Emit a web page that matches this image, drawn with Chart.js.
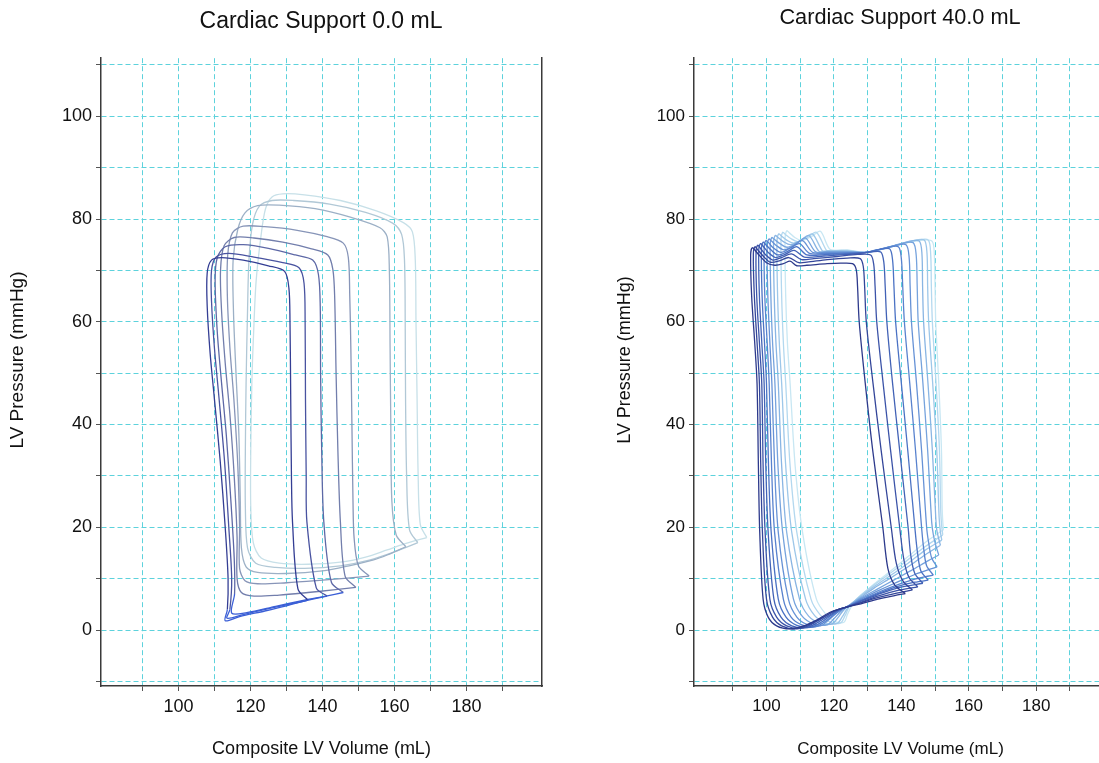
<!DOCTYPE html>
<html>
<head>
<meta charset="utf-8">
<title>Cardiac Support PV loops</title>
<script src="https://cdn.jsdelivr.net/npm/chart.js@4.4.1/dist/chart.umd.min.js"></script>
<style>
  html, body { margin: 0; padding: 0; background: #fff; overflow: hidden; }
  body { width: 1099px; height: 763px; position: relative; }
  .box { position: absolute; top: 0; height: 763px; }
  #leftBox { left: 0; width: 642px; }
  #rightBox { left: 605px; width: 590px; }
</style>
</head>
<body>
<div class="box" id="leftBox"><canvas id="chartLeft"></canvas></div>
<div class="box" id="rightBox"><canvas id="chartRight"></canvas></div>
<script>
// axis values
const xGridValues = [90, 100, 110, 120, 130, 140, 150, 160, 170, 180, 190];
const yGridValues = [-10, 0, 10, 20, 30, 40, 50, 60, 70, 80, 90, 100, 110];
const xTickLabels = [100, 120, 140, 160, 180];
const yTickLabels = [0, 20, 40, 60, 80, 100];

// Cardiac Support 0.0 mL : loops [volume, pressure], darkest (latest) first
const base7 = [[136,5.8],[133.2,8],[131.7,21],[131.4,30],[131.2,45],[131,60],[130.7,66.5],[129.5,69.8],[125,70.9],[118,72],[112,72.5],[109.2,72],[108,69.5],[108,63],[108.8,54],[110,45],[111.6,33],[113,20],[113.8,10],[113.6,4],[113,1.8],[117,2.6],[124,3.7],[130,4.7],[136,5.8]];
const base6 = [[141.3,6.6],[138.3,8.2],[135.7,21],[135.5,30],[135.3,45],[135.2,60],[134.9,67.5],[133.5,70.5],[129,71.5],[121,72.6],[114,73.3],[110.5,72.6],[109.2,70],[109.2,64],[110,55],[111.3,45],[112.8,33],[114,20],[114.8,10],[114.3,4],[113.5,2.3],[118,3],[126,4.3],[134,5.5],[141.3,6.6]];
const base5 = [[145.8,7.3],[142.5,9.3],[140.4,21],[139.8,35],[139.5,50],[139.4,63],[138.9,69.2],[137.3,72],[132.5,73],[125,74.3],[118,75],[113,74.6],[110.8,72.5],[110.2,68],[110.8,58],[112,48],[113.3,38],[114.5,26],[115.5,14],[115.6,7],[114.8,3.3],[119,3.4],[127,4.6],[135,5.8],[141,6.6],[145.8,7.3]];
const base4 = [[149.3,8.3],[146.3,10.5],[145,21],[144.3,35],[143.8,50],[143.4,65],[142.9,70.2],[141.5,73],[137,74.2],[129,75.5],[121,76.3],[115.5,76.4],[112.7,74.8],[111.7,70],[112,62],[113,52],[114.3,42],[115.5,30],[116.3,18],[116.3,10],[117.5,7.3],[121,6.6],[128,6.8],[136,7.3],[143,7.8],[149.3,8.3]];
const base3 = [[153,10.5],[150,12.5],[148.8,18],[148.5,25],[148.2,40],[147.9,55],[147.6,65],[147.2,72.5],[145.8,75.3],[141,76.6],[133,77.8],[124,78.5],[118,78.6],[115,77.3],[113.7,73],[113.6,65],[114.3,55],[115.4,45],[116.5,32],[117,20],[117,12],[118.5,9.6],[122,9],[130,9.2],[140,9.7],[147,10.1],[153,10.5]];
const base2 = [[163.2,16.2],[160.5,18.5],[159.3,25],[159,40],[158.8,55],[158.6,70],[158,76.5],[156,78.3],[148,80.3],[138,82],[128,82.7],[122,82.6],[118.5,81.2],[116.5,78],[115.2,72],[115.3,62],[116,50],[116.8,38],[117.2,25],[117.5,16],[118.8,12.3],[122,11.2],[130,11],[140,11.5],[148,12.6],[154,13.6],[158,14.6],[163.2,16.2]];
const base1 = [[166.5,17],[164.2,19.5],[163.4,30],[163.1,45],[163,60],[162.8,72],[162,77],[159.5,79.2],[152,81.3],[142,82.9],[132,83.6],[126,83.6],[122.5,82.5],[120.6,79],[119.6,72],[119.2,62],[118.8,48],[118.6,35],[118.6,24],[119.2,16],[121.5,13],[127,12.2],[135,12],[145,12.5],[153,13.6],[160,15.2],[166.5,17]];
const base0 = [[169,18],[167.2,20.5],[166.6,30],[166.3,45],[166,60],[165.8,72],[165,77.5],[162.5,79.3],[155,81.6],[145,83.6],[135,84.7],[129,84.9],[126,84.3],[124.2,82],[123,77],[121.6,68],[120.9,58],[120.4,48],[120.1,35],[120.1,24],[120.8,17],[123,14],[128,13],[136,12.8],[145,13.2],[152,14.2],[158,15.6],[163,16.8],[169,18]];
const baseLoops = [base7, base6, base5, base4, base3, base2, base1, base0];

// Cardiac Support 40.0 mL : loops [volume, pressure], darkest first
const sup0 = [[141.2,7.1],[138,8.8],[136,12],[134.5,20],[131.5,35],[129.3,48],[127.5,60],[127,67],[126.6,70.2],[125.5,71.3],[122,71.4],[118,71.3],[112,71],[109,70.9],[107,71.8],[105,71.3],[102.5,71],[100,71.5],[97.5,73.2],[95.8,74.4],[95.3,73],[95.6,65],[96.5,56],[97.2,48],[97.6,32],[98,19],[99,6],[100.5,2.5],[103,0.8],[107,0.2],[111,0.8],[115,2],[119,3.5],[124,4.5],[128,5.1],[133,6],[138,6.7],[141.2,7.1]];
const sup1 = [[143.3,7.8],[140.5,9.5],[138.5,13],[137,20],[134,35],[131.6,48],[129.6,60],[129.1,67],[128.7,70.8],[127.8,72.3],[124,72.4],[118,72.1],[112,71.6],[109.6,71.5],[106.6,72.5],[104,71.9],[101.1,71.6],[99,72.8],[97.4,74],[96.6,74.6],[96.1,73.2],[96.4,65],[97.2,56],[97.9,48],[98.3,32],[98.8,19],[100,6],[101.8,2.5],[104.5,0.8],[108.5,0.2],[112,0.9],[116,2.2],[120,3.7],[124,4.5],[128,5.3],[133,6.3],[138,7.1],[143.3,7.8]];
const sup2 = [[144.9,8.4],[142.3,10.2],[140.8,13.5],[139.5,20],[136.8,35],[134.6,48],[132.7,60],[132.2,67],[131.8,71.2],[130.9,73],[127,73.1],[121,72.7],[114,72.3],[110.4,72.1],[107.4,73.2],[104.5,72.5],[101.9,72],[99.8,73],[98.2,74.3],[97.4,74.9],[96.9,73.5],[97.1,65],[97.9,56],[98.6,48],[99,32],[99.6,19],[101,6],[103,2.5],[106,0.8],[110,0.3],[113,1],[117,2.5],[121,3.9],[124,4.5],[128,5.4],[133,6.6],[139,7.7],[144.9,8.4]];
const sup3 = [[146.4,9.1],[144,11],[142.8,14.5],[142,20],[139.5,35],[137.4,48],[135.7,60],[135.2,67],[134.8,71.6],[133.9,73.6],[131,73.6],[129.7,73.5],[124,73.1],[117,72.8],[111.2,72.6],[108.2,73.9],[105.5,73.1],[102.7,72.5],[100.5,73.5],[99,74.7],[98.2,75.2],[97.7,73.8],[97.9,65],[98.6,56],[99.3,48],[99.8,32],[100.5,19],[102.2,6],[104.3,2.5],[107.5,0.8],[111.5,0.4],[114.5,1.2],[118.5,2.8],[122,4.1],[124,4.5],[128,5.6],[133,6.9],[139,8.2],[146.4,9.1]];
const sup4 = [[148,9.7],[145.8,11.5],[144.8,15],[144,20],[141.9,35],[140,48],[138.3,60],[137.8,67],[137.4,72],[136.5,74.2],[133,74],[129.7,73.5],[125,73.3],[118,73.1],[112,73],[109,74.6],[106.3,73.7],[103.5,73],[101.3,74],[99.8,75],[99,75.5],[98.5,74],[98.7,65],[99.4,56],[100,48],[100.6,32],[101.4,19],[103.5,6],[105.8,2.5],[109,0.9],[113,0.5],[116,1.4],[119.5,3],[122.5,4.2],[124,4.5],[128,5.7],[133,7.1],[139,8.5],[144,9.3],[148,9.7]];
const sup5 = [[149.5,10.7],[147.5,12.5],[146.6,16],[146,20],[144.2,35],[142.5,48],[140.9,60],[140.4,67],[140,72.3],[139.1,74.6],[135.5,74.4],[131.5,73.8],[129.7,73.5],[124,73.4],[118,73.3],[112.8,73.3],[109.8,75.2],[107,74.3],[104.3,73.5],[102,74.4],[100.6,75.4],[99.8,75.8],[99.3,74.3],[99.5,65],[100.2,56],[100.8,48],[101.5,32],[102.4,19],[105,6],[107.3,2.5],[110.5,1],[114.5,0.6],[117.5,1.7],[120.5,3.2],[123,4.3],[124,4.6],[128,5.8],[133,7.3],[138,8.6],[144,9.9],[149.5,10.7]];
const sup6 = [[150.6,12.3],[149,14],[148.1,17],[147.5,20],[146,35],[144.5,48],[143,60],[142.6,67],[142.3,72.6],[141.4,75],[138,74.8],[133,74],[129.7,73.5],[124,73.5],[118,73.5],[113.7,73.5],[110.7,75.8],[108,74.8],[105.2,74],[103,74.8],[101.5,75.7],[100.7,76.1],[100.2,74.6],[100.4,65],[101,56],[101.6,48],[102.4,32],[103.5,19],[106.5,6],[109,2.5],[112,1.1],[116,0.8],[118.5,2],[121,3.4],[123,4.3],[124,4.6],[128,6],[133,7.6],[138,9.1],[144,10.8],[150.6,12.3]];
const sup7 = [[151.1,14.6],[150.2,16.5],[149.5,18.5],[149,21],[147.8,35],[146.4,48],[145,60],[144.7,67],[144.4,73],[143.5,75.4],[140,75.2],[134.5,74.2],[129.7,73.5],[124,73.6],[118,73.6],[114.6,73.6],[111.6,76.3],[109,75.3],[106.1,74.5],[104,75.2],[102.4,76],[101.6,76.4],[101.1,74.9],[101.3,65],[101.8,56],[102.5,48],[103.4,32],[104.8,19],[108,6],[110.7,2.6],[114,1.2],[118,1],[120,2.2],[122,3.6],[123.5,4.4],[124.5,4.7],[128,6.2],[133,8],[138,9.8],[143,11.6],[148,13.5],[151.1,14.6]];
const sup8 = [[151.6,16.5],[151,18],[150.5,19.5],[150.2,22],[149.2,35],[147.9,48],[146.6,60],[146.3,67],[146.1,73.3],[145.3,75.7],[142,75.6],[136,74.4],[129.7,73.5],[124,73.7],[118,73.7],[115.6,73.7],[112.6,76.8],[110,75.8],[107.1,75],[105,75.6],[103.4,76.4],[102.6,76.8],[102.1,75.2],[102.3,65],[102.8,56],[103.5,48],[104.5,32],[106,19],[109.8,6],[112.5,2.7],[116,1.3],[119.5,1.2],[121.2,2.4],[122.8,3.8],[124.5,4.8],[128,6.4],[132,8.2],[137,10.2],[142,12.3],[147,14.6],[151.6,16.5]];
const sup9 = [[152,17.5],[151.6,19],[151.2,22],[150.5,35],[149.3,48],[148.1,60],[147.8,67],[147.6,73.4],[146.8,75.9],[143.5,75.8],[137,74.6],[129.7,73.5],[124,73.8],[118,73.8],[116.6,73.8],[113.6,77.1],[111,76.1],[108.1,75.3],[106,75.9],[104.4,76.7],[103.6,77.1],[103.1,75.5],[103.3,65],[103.8,56],[104.5,48],[105.7,32],[107.5,19],[111.6,6],[114.3,2.8],[117.5,1.4],[121,1.3],[122.5,2.6],[123.8,4],[125,5],[128,6.6],[132,8.5],[137,10.7],[142,13],[147,15.5],[152,17.5]];
const sup10 = [[152.3,18.5],[152,20],[151.7,23],[151.3,35],[150.3,48],[149.2,60],[148.9,67],[148.7,73.2],[148,75.9],[145,75.9],[138,74.8],[129.7,73.5],[124,73.9],[119,73.9],[117.8,73.9],[114.8,77.4],[112.2,76.4],[109.3,75.6],[107.2,76.2],[105.6,77],[104.8,77.4],[104.3,75.8],[104.5,65],[105,56],[105.7,48],[107,32],[109,19],[113.2,6],[116,2.9],[119,1.5],[122,1.4],[123.3,2.8],[124.3,4.2],[125.5,5.2],[128,6.8],[132,8.8],[137,11.2],[142,13.7],[147,16.2],[152.3,18.5]];
const sup11 = [[152.5,19.5],[152.3,21],[152.1,24],[151.9,35],[151.1,48],[150.2,60],[150,67],[149.8,72.8],[149.2,75.6],[146.5,75.9],[139,75],[129.7,73.5],[124,74],[119,74],[116,77.6],[113.4,76.6],[110.5,75.8],[108.4,76.4],[106.8,77.3],[106,77.7],[105.5,76],[105.7,65],[106.2,56],[107,48],[108.5,32],[110.7,19],[114.8,6],[117.7,3],[120.5,1.6],[123,1.5],[124,3],[125,4.4],[126,5.4],[128.5,7],[132,9],[137,11.6],[142,14.3],[147,17],[152.5,19.5]];
const supportLoops = [sup0, sup1, sup2, sup3, sup4, sup5, sup6, sup7, sup8, sup9, sup10, sup11];

// styles
const baseColors = ['#343e94', '#4953a0', '#5d68a6', '#727eac', '#8795b8', '#9cb0c6', '#b1c8d6', '#c7e0e8'];
const supportColors = ['#2d3a8c', '#34469a', '#3b53a8', '#4262b6', '#4b72c4', '#5882ce', '#6692d6', '#76a3dd', '#89b5e3', '#9dc7e9', '#b3d8ef', '#c8e7f3'];
const FONT = '"Liberation Sans", Arial, sans-serif';
const GRID = '#5dd2dc';
const BRIGHT = '#3b5fd6';

// rotated y-axis title, placed like the original
const sideTitle = {
  id: 'sideTitle',
  afterDraw(chart, args, opts) {
    const ctx = chart.ctx;
    ctx.save();
    ctx.translate(opts.x, opts.y);
    ctx.rotate(-Math.PI / 2);
    ctx.font = opts.size + 'px ' + FONT;
    ctx.fillStyle = '#111';
    ctx.textAlign = 'center';
    ctx.textBaseline = 'middle';
    ctx.fillText(opts.text, 0, 0);
    ctx.restore();
  }
};

function loopSets(loops, colors, brightCount) {
  return loops.map((pts, i) => ({
    data: pts.map(p => ({x: p[0], y: p[1]})),
    showLine: true,
    borderColor: colors[i],
    borderWidth: 1.3,
    pointRadius: 0,
    tension: 0.3,
    fill: false,
    segment: i < brightCount ? {
      borderColor: c => (c.p0.parsed.y < 7.5 && c.p1.parsed.y < 7.5 && c.p0.parsed.x > 112) ? BRIGHT : undefined
    } : undefined
  }));
}

function makeChart(id, cfg) {
  const lh = cfg.titleSize * 1.2;
  const padTop = cfg.titleCenter - lh / 2;
  const axisLh = cfg.axisSize * 1.2;
  new Chart(document.getElementById(id), {
    type: 'scatter',
    data: { datasets: loopSets(cfg.loops, cfg.colors, cfg.bright) },
    plugins: [sideTitle],
    options: {
      responsive: true,
      maintainAspectRatio: false,
      animation: false,
      layout: { padding: 0 },
      plugins: {
        legend: { display: false },
        tooltip: { enabled: false },
        title: {
          display: true,
          text: cfg.title,
          color: '#111',
          font: { family: FONT, size: cfg.titleSize, weight: 'normal' },
          padding: { top: padTop, bottom: 58.2 - padTop - lh }
        },
        sideTitle: { text: 'LV Pressure (mmHg)', x: cfg.yTitleX, y: 360, size: cfg.yTitleSize }
      },
      scales: {
        x: {
          type: 'linear',
          min: 78.5,
          max: 201,
          afterBuildTicks: s => { s.ticks = xGridValues.map(v => ({value: v})); },
          afterFit: s => { s.height = 77; },
          ticks: {
            autoSkip: false, maxRotation: 0, padding: 5, color: '#111',
            font: { family: FONT, size: cfg.tickSize },
            callback: v => xTickLabels.includes(v) ? String(v) : ''
          },
          grid: { color: GRID, lineWidth: 1, tickColor: '#555', tickLength: 5 },
          border: { display: true, color: '#3a3a3a', width: 1.5, dash: [5, 3] },
          title: {
            display: true, text: 'Composite LV Volume (mL)', color: '#111',
            font: { family: FONT, size: cfg.axisSize },
            padding: { top: 0, bottom: 763 - 749 - axisLh / 2 }
          }
        },
        y: {
          type: 'linear',
          min: -10.9,
          max: 111.3,
          afterBuildTicks: s => { s.ticks = yGridValues.map(v => ({value: v})); },
          afterFit: s => { s.width = cfg.yWidth; },
          ticks: {
            autoSkip: false, padding: 4, color: '#111',
            font: { family: FONT, size: cfg.tickSize },
            callback: v => yTickLabels.includes(v) ? String(v) : ''
          },
          grid: { color: GRID, lineWidth: 1, tickColor: '#555', tickLength: 5 },
          border: { display: true, color: '#3a3a3a', width: 1.5, dash: [5, 3] }
        },
        yEdge: {
          type: 'linear',
          position: 'right',
          min: -10.9,
          max: 111.3,
          afterFit: s => { s.width = cfg.rightWidth; },
          ticks: { display: false },
          grid: { display: false, drawTicks: false },
          border: { display: true, color: '#3a3a3a', width: 1.5 }
        }
      }
    }
  });
}

makeChart('chartLeft', {
  title: 'Cardiac Support 0.0 mL', titleSize: 23, titleCenter: 22,
  loops: baseLoops, colors: baseColors, bright: 3,
  yWidth: 101, rightWidth: 100, yTitleX: 18, yTitleSize: 19,
  tickSize: 18, axisSize: 18
});
makeChart('chartRight', {
  title: 'Cardiac Support 40.0 mL', titleSize: 21.7, titleCenter: 18,
  loops: supportLoops, colors: supportColors, bright: 0,
  yWidth: 89, rightWidth: 88, yTitleX: 20, yTitleSize: 18,
  tickSize: 17, axisSize: 17
});
</script>
</body>
</html>
